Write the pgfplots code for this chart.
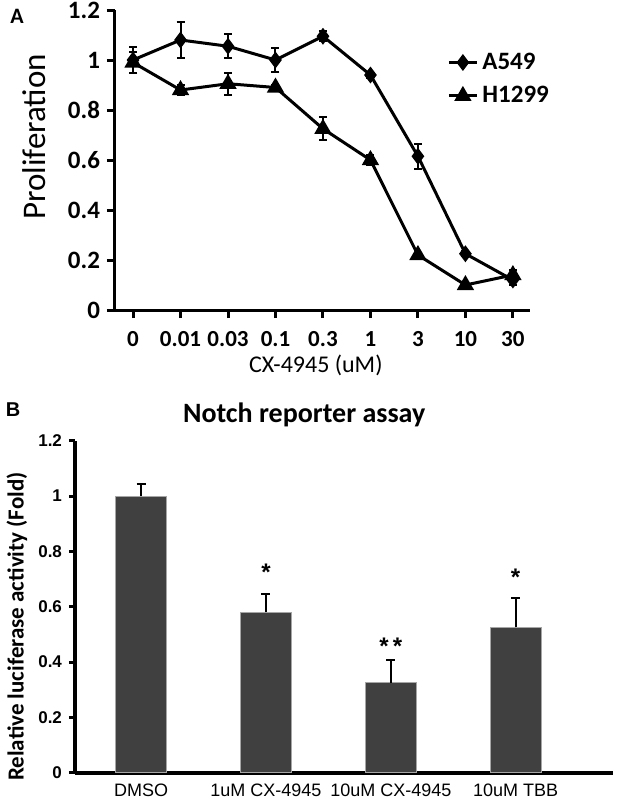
\documentclass[border=0pt]{standalone}
\usepackage{fontspec}
\setmainfont{Carlito}
\newfontfamily\arial{Liberation Sans}
\usepackage{pgfplots}
\usepackage{pgfplotstable}
\pgfplotsset{compat=1.18}

% panel A: proliferation vs CX-4945 dose
\pgfplotstableread{
x a549 ea h1299 eh
0 1.00 0.05 0.99 0.04
1 1.08 0.07 0.88 0.02
2 1.055 0.048 0.905 0.045
3 1.00 0.046 0.89 0.01
4 1.095 0.02 0.725 0.045
5 0.94 0.01 0.60 0.02
6 0.615 0.05 0.22 0.01
7 0.225 0.01 0.10 0.01
8 0.12 0.02 0.14 0.02
}\prolif

% panel B: Notch reporter assay
\pgfplotstableread{
x val err
0 1.00 0.042
1 0.58 0.066
2 0.326 0.083
3 0.525 0.107
}\notch

\definecolor{bardark}{HTML}{404040}

\begin{document}
\begin{tikzpicture}
\useasboundingbox (0,0) rectangle (308.5pt,400pt);

\node[font=\bfseries\fontsize{11}{13}\selectfont] at (8.5pt,392pt) {A};
\node[font=\arial\bfseries\fontsize{10}{12}\selectfont] at (6.5pt,195pt) {B};

\begin{axis}[
  at={(57.5pt,245pt)}, anchor=south west,
  scale only axis, width=207.5pt, height=150pt,
  xmin=-0.38, xmax=8.36, ymin=0, ymax=1.2,
  axis x line*=bottom, axis y line*=left,
  axis line style={line width=1.5pt, -},
  every tick/.style={line width=1.5pt, black},
  tick align=outside, major tick length=4pt,
  xtick={0,1,2,3,4,5,6,7,8},
  xticklabels={0,0.01,0.03,0.1,0.3,1,3,10,30},
  ytick={0,0.2,0.4,0.6,0.8,1,1.2},
  yticklabels={0,0.2,0.4,0.6,0.8,1,1.2},
  xticklabel style={font=\bfseries\fontsize{11.5}{13}\selectfont, yshift=-3pt},
  yticklabel style={font=\bfseries\fontsize{12.5}{15}\selectfont},
  xlabel={CX-4945 (uM)},
  xlabel style={font=\fontsize{12}{14}\selectfont, at={(axis description cs:0.484,-0.183)}, anchor=center},
  ylabel={Proliferation},
  ylabel style={font=\fontsize{16.5}{18}\selectfont, at={(axis description cs:-0.195,0.577)}, anchor=center},
  clip=false,
  legend style={at={(rel axis cs:0.80,0.872)}, anchor=north west, draw=none, fill=none,
    font=\bfseries\fontsize{12.5}{14}\selectfont, row sep=3pt, inner sep=0pt},
  legend cell align=left,
  legend image code/.code={\draw[mark repeat=2,mark phase=2] plot coordinates {(0pt,0pt)(7pt,0pt)(14pt,0pt)};},
]
\addplot[black, line width=1.5pt, mark=diamond*, mark size=3pt, mark options={solid},
  error bars/.cd, y dir=both, y explicit,
  error bar style={line width=1pt},
  error mark options={rotate=90, mark size=2pt, line width=1pt}]
  table[x=x, y=a549, y error=ea] {\prolif};
\addlegendentry{A549}
\addplot[black, line width=1.5pt, mark=triangle*, mark size=3.5pt, mark options={solid},
  error bars/.cd, y dir=both, y explicit,
  error bar style={line width=1pt},
  error mark options={rotate=90, mark size=2pt, line width=1pt}]
  table[x=x, y=h1299, y error=eh] {\prolif};
\addlegendentry{H1299}
\end{axis}

\begin{axis}[
  at={(37.5pt,13.65pt)}, anchor=south west,
  scale only axis, width=269pt, height=166pt,
  xmin=-0.53, xmax=3.78, ymin=0, ymax=1.2,
  axis x line*=bottom, axis y line*=left,
  axis line style={line width=2pt, -},
  tick align=outside, major tick length=3pt,
  ytick={0,0.2,0.4,0.6,0.8,1,1.2},
  yticklabels={0,0.2,0.4,0.6,0.8,1,1.2},
  ytick style={line width=1.5pt, black},
  xtick={0,1,2,3},
  xtick style={draw=none},
  xticklabels={DMSO,1uM CX-4945,10uM CX-4945,10uM TBB},
  xticklabel style={font=\arial\fontsize{9}{10}\selectfont, yshift=1pt},
  yticklabel style={font=\arial\bfseries\fontsize{8.5}{10}\selectfont},
  ylabel={Relative luciferase activity (Fold)},
  ylabel style={font=\bfseries\fontsize{11.5}{13}\selectfont, at={(axis description cs:-0.108,0.44)}, anchor=center},
  title={Notch reporter assay},
  title style={font=\bfseries\fontsize{14}{16}\selectfont, at={(axis description cs:0.426,1.042)}, anchor=center},
  clip=false,
]
\addplot[ybar, bar width=0.41, fill=bardark, draw=gray!70, line width=0.4pt,
  error bars/.cd, y dir=plus, y explicit,
  error bar style={line width=1pt, black},
  error mark options={rotate=90, mark size=2.25pt, line width=1pt, black}]
  table[x=x, y=val, y error=err] {\notch};
\node[font=\arial\bfseries\fontsize{12}{14}\selectfont] at (axis cs:1,0.725) {*};
\node[font=\arial\bfseries\fontsize{12}{14}\selectfont] at (axis cs:2,0.457) {*\,*};
\node[font=\arial\bfseries\fontsize{12}{14}\selectfont] at (axis cs:3,0.707) {*};
\end{axis}
\end{tikzpicture}
\end{document}
